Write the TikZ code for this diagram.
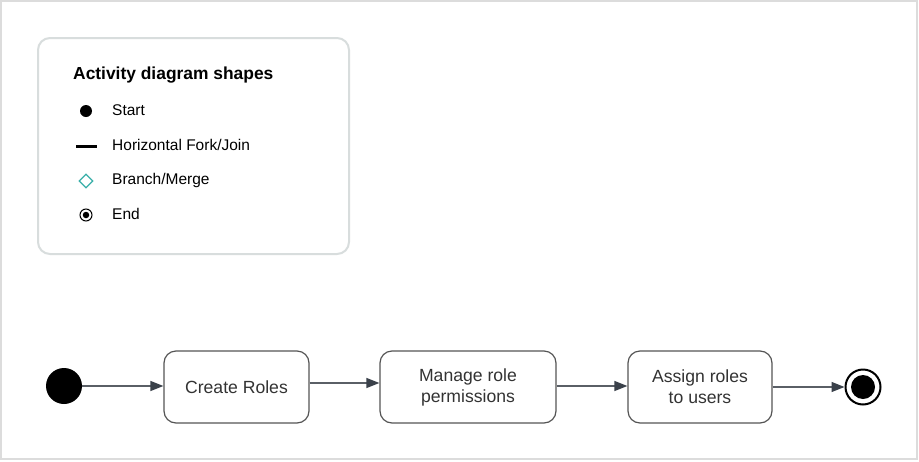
\documentclass[tikz,border=0pt]{standalone}
\usepackage{fontspec}
\setmainfont{Liberation Sans}
\usetikzlibrary{arrows.meta,shapes.geometric}
\definecolor{framegray}{HTML}{DCDCDC}
\definecolor{legendgray}{HTML}{D8DDDD}
\definecolor{boxline}{HTML}{555555}
\definecolor{arrowgray}{HTML}{5A5F66}
\definecolor{tipgray}{HTML}{3A414A}
\definecolor{txtgray}{HTML}{333333}
\definecolor{teal}{HTML}{3AAFA9}
\tikzset{
  x=1pt, y=-1pt,
  actbox/.style={draw=boxline, line width=1.2pt, rounded corners=12pt, minimum height=72pt,
    align=center, text=txtgray, font=\fontsize{17.6}{21}\selectfont, inner sep=0pt},
  flow/.style={draw=arrowgray, line width=1.2pt, -{Triangle[length=13pt,width=10pt,color=tipgray]}},
  legtext/.style={anchor=west, font=\fontsize{15.5}{18}\selectfont, text=black, inner sep=0pt},
}
\begin{document}
\begin{tikzpicture}
\useasboundingbox (0,0) rectangle (919,461);
\fill[white] (0,0) rectangle (919,461);
\draw[framegray, line width=1.5pt] (1,1) rectangle (917,459);
% legend
\draw[legendgray, line width=2pt, rounded corners=12pt] (38,38) rectangle (349,254);
\node[anchor=west, inner sep=0pt, font=\bfseries\fontsize{17.4}{20}\selectfont] (title) at (73,75) {Activity diagram shapes};
\node[circle, fill=black, minimum size=12pt, inner sep=0pt] (lstart) at (86,111) {};
\node[legtext] (tstart) at (112,110) {Start};
\coordinate (fa) at (76,146);
\coordinate (fb) at (97,146);
\draw[black, line width=3pt] (fa) -- (fb);
\node[legtext] (tfork) at (112,145) {Horizontal Fork/Join};
\node[diamond, draw=teal, line width=1.3pt, minimum size=14pt, inner sep=0pt] (ldia) at (86,181) {};
\node[legtext] (tbranch) at (112,180) {Branch/Merge};
\node[circle, draw=black, line width=1pt, minimum size=12pt, inner sep=0pt] (lend) at (86,215) {};
\node[circle, fill=black, minimum size=6.5pt, inner sep=0pt] (lendin) at (86,215) {};
\node[legtext] (tend) at (112,214) {End};
% flow
\node[circle, fill=black, minimum size=36pt, inner sep=0pt] (s) at (64,386) {};
\node[actbox, minimum width=145pt] (b1) at (236.5,387) {Create Roles};
\node[actbox, minimum width=176pt] (b2) at (468,387) {Manage role\\permissions};
\node[actbox, minimum width=144pt] (b3) at (700,387) {Assign roles\\to users};
\node[circle, draw=black, line width=2pt, fill=white, minimum size=35pt, inner sep=0pt] (e) at (863,387) {};
\node[circle, fill=black, minimum size=24pt, inner sep=0pt] (ein) at (863,387) {};
\draw[flow] (s.east) -- (s.east -| b1.west);
\draw[flow] ([yshift=4pt]b1.east) -- ([yshift=4pt]b2.west);
\draw[flow] ([yshift=1pt]b2.east) -- ([yshift=1pt]b3.west);
\draw[flow] (b3.east) -- (e.west);
\end{tikzpicture}
\end{document}
